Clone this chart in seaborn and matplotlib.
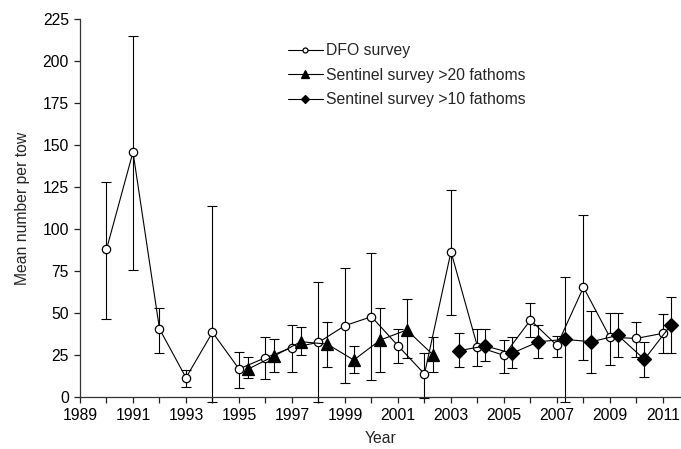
import numpy as np
import pandas as pd
import matplotlib
matplotlib.use("Agg")
import matplotlib.pyplot as plt
import seaborn as sns

# ---- data ----
dfo_year = [1990, 1991, 1992, 1993, 1994, 1995, 1996, 1997, 1998, 1999, 2000,
            2001, 2002, 2003, 2004, 2005, 2006, 2007, 2008, 2009, 2010, 2011]
dfo_mean = [87.9, 145.8, 40.5, 11.5, 38.5, 16.7, 23.4, 29.4, 32.5, 42.5, 47.8,
            30.5, 13.7, 86.5, 29.9, 24.8, 45.8, 30.7, 65.3, 35.5, 34.9, 37.9]
dfo_hi = [128.2, 214.9, 53.2, 16.1, 113.9, 27.0, 35.9, 42.7, 68.6, 76.6, 85.5,
          40.3, 26.2, 123.5, 40.3, 34.1, 55.8, 36.3, 108.3, 49.8, 44.6, 49.4]
dfo_lo = [46.4, 75.6, 26.4, 6.2, -3.0, 5.2, 10.5, 15.1, -2.8, 8.5, 9.9,
          20.4, -0.8, 48.8, 18.6, 14.5, 35.5, 23.6, 21.8, 19.2, 23.8, 26.4]

s20_year = [1995.33, 1996.33, 1997.33, 1998.33, 1999.33, 2000.33, 2001.33, 2002.33]
s20_mean = [16.5, 24.4, 32.9, 31.5, 22.0, 33.9, 39.9, 25.0]
s20_hi = [23.6, 34.3, 41.9, 44.8, 30.4, 53.2, 58.1, 35.5]
s20_lo = [11.1, 15.1, 25.0, 17.9, 14.5, 15.1, 23.0, 15.1]

s10_year = [2003.3, 2004.3, 2005.3, 2006.3, 2007.3, 2008.3, 2009.3, 2010.3, 2011.3]
s10_mean = [27.6, 30.4, 26.0, 32.9, 34.3, 32.9, 36.7, 22.4, 42.9]
s10_hi = [38.3, 40.3, 35.5, 42.7, 71.6, 51.4, 49.8, 32.9, 59.7]
s10_lo = [18.1, 21.2, 17.1, 23.2, -3.2, 14.5, 23.6, 12.1, 26.4]

series_names = ["DFO survey", "Sentinel survey >20 fathoms", "Sentinel survey >10 fathoms"]
x_ticks = list(range(1989, 2012))
x_ticklabels = [str(y) if (y % 2 == 1) else "" for y in x_ticks]
y_ticks = [0, 25, 50, 75, 100, 125, 150, 175, 200, 225]

# ---- style ----
sns.set_style("ticks")
plt.rcParams["font.family"] = ["Liberation Sans", "DejaVu Sans"]
FS = 11.3
plt.rcParams["font.size"] = FS

fig = plt.figure(figsize=(6.81, 4.49), dpi=100)
ax = fig.add_axes([80 / 681, 52 / 449, 1 - 80 / 681, (397 - 19) / 449])

LW = 0.8
specs = [
    (dfo_year, dfo_mean, dfo_lo, dfo_hi, dict(marker="o", markersize=6, markerfacecolor="white",
                                              markeredgecolor="black", markeredgewidth=0.9)),
    (s20_year, s20_mean, s20_lo, s20_hi, dict(marker="^", markersize=9, markerfacecolor="black",
                                              markeredgecolor="black", markeredgewidth=0.9)),
    (s10_year, s10_mean, s10_lo, s10_hi, dict(marker="D", markersize=7.5, markerfacecolor="black",
                                              markeredgecolor="black", markeredgewidth=0.9)),
]

for (xs, ys, lo, hi, mk), name in zip(specs, series_names):
    xs = np.array(xs); ys = np.array(ys); lo = np.array(lo); hi = np.array(hi)
    ax.errorbar(xs, ys, yerr=[ys - lo, hi - ys], fmt="none", ecolor="black",
                elinewidth=LW, capsize=3.5, capthick=LW, zorder=2, clip_on=False)
    df = pd.DataFrame({"x": xs, "y": ys})
    sns.lineplot(data=df, x="x", y="y", ax=ax, color="black", linewidth=LW,
                 label=name, zorder=3, clip_on=False, **mk)

ax.set_xlim(1989, 2011.68)
ax.set_ylim(0, 225)
ax.set_xticks(x_ticks)
ax.set_xticklabels(x_ticklabels)
ax.set_yticks(y_ticks)
ax.set_xlabel("Year", fontsize=FS, labelpad=6)
ax.set_ylabel("Mean number per tow", fontsize=FS, labelpad=9)
ax.tick_params(axis="both", direction="out", length=4, width=0.9, colors="#222222",
               labelcolor="black", labelsize=FS, pad=4)
for s in ["top", "right"]:
    ax.spines[s].set_visible(False)
for s in ["left", "bottom"]:
    ax.spines[s].set_color("#333333")
    ax.spines[s].set_linewidth(0.9)

leg = ax.legend(loc="upper left", bbox_to_anchor=(288 / 681, 1 - 43 / 449),
                bbox_transform=fig.transFigure, frameon=False, fontsize=FS,
                handlelength=2.2, handletextpad=0.25, labelspacing=0.62,
                borderpad=0, borderaxespad=0, markerscale=0.6)

fig.savefig("out.png", dpi=100)
